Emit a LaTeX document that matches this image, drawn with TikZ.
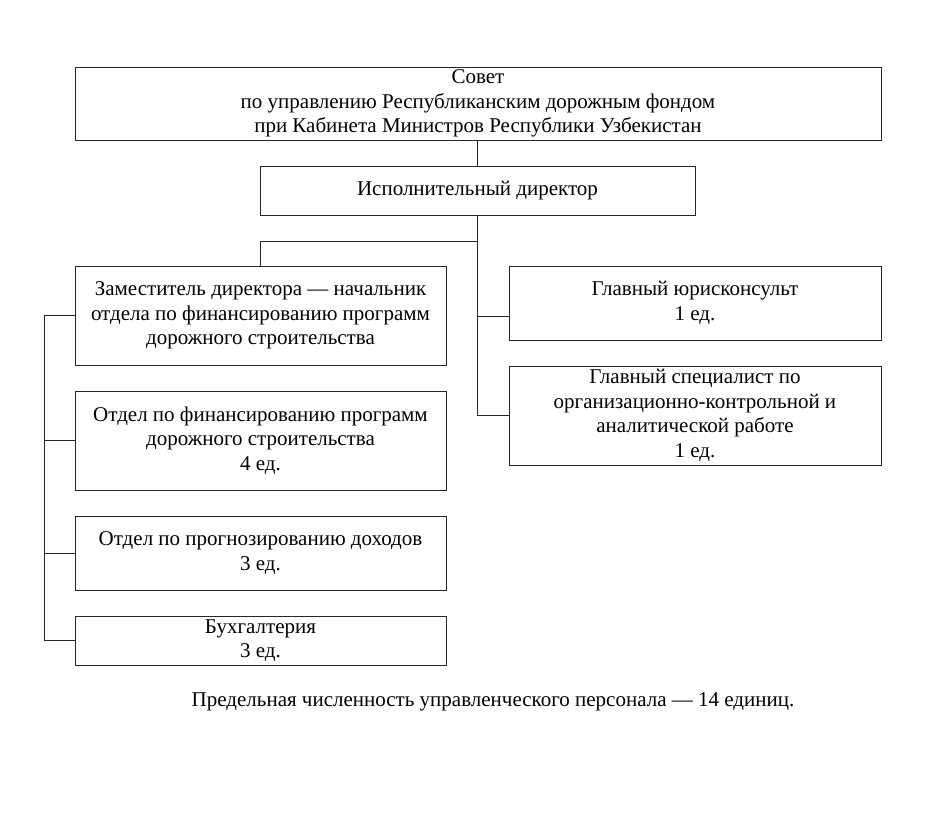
\documentclass[tikz,border=0pt]{standalone}
\usepackage{fontspec}
\setmainfont{Liberation Serif}
\usetikzlibrary{calc}
\begin{document}
\begin{tikzpicture}[x=1pt,y=-1pt,
  box/.style={draw=black!85,line width=1pt,inner sep=0pt,anchor=center,align=center,
    font=\fontsize{21}{24.5}\selectfont},
  conn/.style={draw=black!85,line width=1pt}]
\useasboundingbox (0,0) rectangle (927,823);
\node[box,minimum width=806pt,minimum height=73pt] (sov) at (478,103.5)
  {Совет\\по управлению Республиканским дорожным фондом\\при Кабинета Министров Республики Узбекистан};
\node[box,minimum width=435pt,minimum height=49pt] (dir) at (477.5,190.5) {Исполнительный директор};
\node[box,minimum width=371pt,minimum height=99pt] (dep) at (260.5,315.5)
  {Заместитель директора — начальник\\отдела по финансированию программ\\дорожного строительства};
\node[box,minimum width=371pt,minimum height=99pt] (otd) at (260.5,440.5)
  {Отдел по финансированию программ\\дорожного строительства\\4 ед.};
\node[box,minimum width=371pt,minimum height=74pt] (prg) at (260.5,553)
  {Отдел по прогнозированию доходов\\3 ед.};
\node[box,minimum width=371pt,minimum height=49pt] (bux) at (260.5,640.5)
  {Бухгалтерия\\3 ед.};
\node[box,minimum width=372pt,minimum height=74pt] (jur) at (695,303)
  {Главный юрисконсульт\\1 ед.};
\node[box,minimum width=372pt,minimum height=99pt] (spc) at (695,415.5)
  {Главный специалист по\\организационно-контрольной и\\аналитической работе\\1 ед.};
\node[anchor=center,font=\fontsize{21}{24.5}\selectfont] (foot) at (493,702)
  {Предельная численность управленческого персонала — 14 единиц.};
\coordinate (jn) at (477.5,241);
\coordinate (jy) at (477.5,316);
\coordinate (lbus) at (44,640.5);
\draw[conn] (sov.south -| dir.north) -- (dir.north);
\draw[conn] (dir.south) |- (spc.west);
\draw[conn] (jy) -- (jy -| jur.west);
\draw[conn] (jn) -| (dep.north);
\draw[conn] (dep.west) -| (lbus) -- (bux.west);
\draw[conn] (otd.west) -- (otd.west -| lbus);
\draw[conn] (prg.west) -- (prg.west -| lbus);
\end{tikzpicture}
\end{document}
